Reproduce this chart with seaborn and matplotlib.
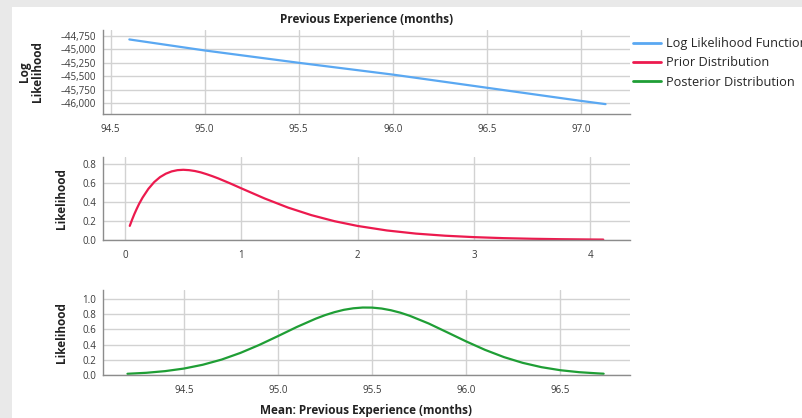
import numpy as np
import pandas as pd
import seaborn as sns
import matplotlib.pyplot as plt
from matplotlib.ticker import FuncFormatter
from matplotlib.lines import Line2D
from matplotlib.patches import Rectangle

# ---- data ----
ll_x = [94.6, 95.0, 95.5, 96.0, 96.5, 97.0, 97.13]
ll_y = [-44815, -45020, -45250, -45470, -45715, -45960, -46020]

prior_x = [0.04, 0.06, 0.08, 0.1, 0.12, 0.15, 0.2, 0.25, 0.3, 0.35, 0.4, 0.45, 0.5,
           0.55, 0.6, 0.65, 0.7, 0.75, 0.8, 0.9, 1.0,
           1.2, 1.4, 1.6, 1.8, 2.0, 2.25, 2.5, 2.75, 3.0, 3.25, 3.5, 3.75, 4.0, 4.11]
prior_y = [0.148, 0.213, 0.273, 0.327, 0.378, 0.444, 0.536, 0.607, 0.659, 0.695,
           0.719, 0.732, 0.736, 0.732, 0.723, 0.709, 0.690, 0.669,
           0.646, 0.595, 0.541, 0.435, 0.340, 0.261, 0.197, 0.147, 0.100, 0.067,
           0.045, 0.030, 0.0195, 0.0128, 0.0083, 0.0054, 0.0044]

post_x = [94.2, 94.3, 94.4, 94.5, 94.6, 94.7, 94.8, 94.9, 95.0, 95.1, 95.2, 95.25,
          95.3, 95.35, 95.4, 95.45, 95.5, 95.55, 95.6, 95.65, 95.7, 95.8, 95.9,
          96.0, 96.1, 96.2, 96.3, 96.4, 96.5, 96.6, 96.7, 96.73]
post_y = [0.016, 0.029, 0.051, 0.085, 0.135, 0.203, 0.291, 0.396, 0.513, 0.633,
          0.742, 0.789, 0.828, 0.859, 0.879, 0.889, 0.888, 0.876, 0.853, 0.821,
          0.780, 0.679, 0.561, 0.442, 0.331,
          0.236, 0.160, 0.103, 0.063, 0.037, 0.021, 0.017]

series_names = ["Log Likelihood Function", "Prior Distribution", "Posterior Distribution"]
top_title = "Previous Experience (months)"
bottom_xlabel = "Mean: Previous Experience (months)"

ll_yticks = [-44750, -45000, -45250, -45500, -45750, -46000]
ll_xticks = [94.5, 95.0, 95.5, 96.0, 96.5, 97.0]
prior_xticks = [0, 1, 2, 3, 4]
prior_yticks = [0.0, 0.2, 0.4, 0.6, 0.8]
post_xticks = [94.5, 95.0, 95.5, 96.0, 96.5]
post_yticks = [0.0, 0.2, 0.4, 0.6, 0.8, 1.0]

colors = ["#5aa8f2", "#ec1a4e", "#1f9e35"]

sns.set_theme(style="white")
plt.rcParams['font.family'] = ['Open Sans', 'DejaVu Sans']

fig = plt.figure(figsize=(8.03, 4.18), dpi=100)
fig.patch.set_facecolor("#e9e9e9")
fig.patches.append(Rectangle((12 / 803, 0), 1, 1 - 7 / 418, transform=fig.transFigure,
                             facecolor="white", edgecolor="none", zorder=-10))

W, H = 803, 418
def axpos(top, bottom, left=103, right=630):
    return [left / W, 1 - bottom / H, (right - left) / W, (bottom - top) / H]

ax1 = fig.add_axes(axpos(30, 114))
ax2 = fig.add_axes(axpos(157, 240))
ax3 = fig.add_axes(axpos(290, 375))

sns.lineplot(x=ll_x, y=ll_y, ax=ax1, color=colors[0], linewidth=1.6)
sns.lineplot(x=prior_x, y=prior_y, ax=ax2, color=colors[1], linewidth=1.6)
sns.lineplot(x=post_x, y=post_y, ax=ax3, color=colors[2], linewidth=1.6)

ax1.set_xlim(94.46, 97.26)
ax1.set_ylim(-46204, -44639)
ax1.set_xticks(ll_xticks)
ax1.set_yticks(ll_yticks)
ax1.set_xticklabels([f"{v:.1f}" for v in ll_xticks])
ax1.yaxis.set_major_formatter(FuncFormatter(lambda v, p: f"{v:,.0f}".replace("-", "\u2013")))

ax2.set_xlim(-0.19, 4.34)
ax2.set_ylim(0, 0.87)
ax2.set_xticks(prior_xticks)
ax2.set_yticks(prior_yticks)
ax2.set_yticklabels([f"{v:.1f}" for v in prior_yticks])

ax3.set_xlim(94.07, 96.87)
ax3.set_ylim(0, 1.12)
ax3.set_xticks(post_xticks)
ax3.set_yticks(post_yticks)
ax3.set_xticklabels([f"{v:.1f}" for v in post_xticks])
ax3.set_yticklabels([f"{v:.1f}" for v in post_yticks])

for ax in (ax1, ax2, ax3):
    ax.set_facecolor("white")
    ax.grid(True, color="#d2d2d2", linewidth=1.0)
    ax.set_axisbelow(True)
    for s in ("top", "right"):
        ax.spines[s].set_visible(False)
    for s in ("left", "bottom"):
        ax.spines[s].set_color("#8c8c8c")
        ax.spines[s].set_linewidth(1.0)
    ax.tick_params(axis="both", labelsize=7, colors="#8c8c8c", labelcolor="#3a3a3a",
                   length=3, width=0.8, pad=2)
    ax.tick_params(axis="x", pad=4)

ax1.set_ylabel("Log\nLikelihood", fontsize=8.5, fontweight="bold", color="#222222",
               linespacing=0.95, labelpad=12)
ax2.set_ylabel("Likelihood", fontsize=8.5, fontweight="bold", color="#222222", labelpad=10)
ax3.set_ylabel("Likelihood", fontsize=8.5, fontweight="bold", color="#222222", labelpad=10)
ax1.set_title(top_title, fontsize=8.5, fontweight="bold", color="#222222", pad=5)
ax3.set_xlabel(bottom_xlabel, fontsize=8.5, fontweight="bold", color="#222222", labelpad=6)
ax1.set_xlabel("")
ax2.set_xlabel("")

handles = [Line2D([0], [0], color=c, linewidth=2) for c in colors]
fig.legend(handles, series_names, loc="upper left", bbox_to_anchor=(633 / W, 1 - 37 / H),
           frameon=False, fontsize=9.2, handlelength=2.2, handletextpad=0.4,
           labelspacing=0.5, borderaxespad=0, borderpad=0)

fig.savefig("out.png", dpi=100)
